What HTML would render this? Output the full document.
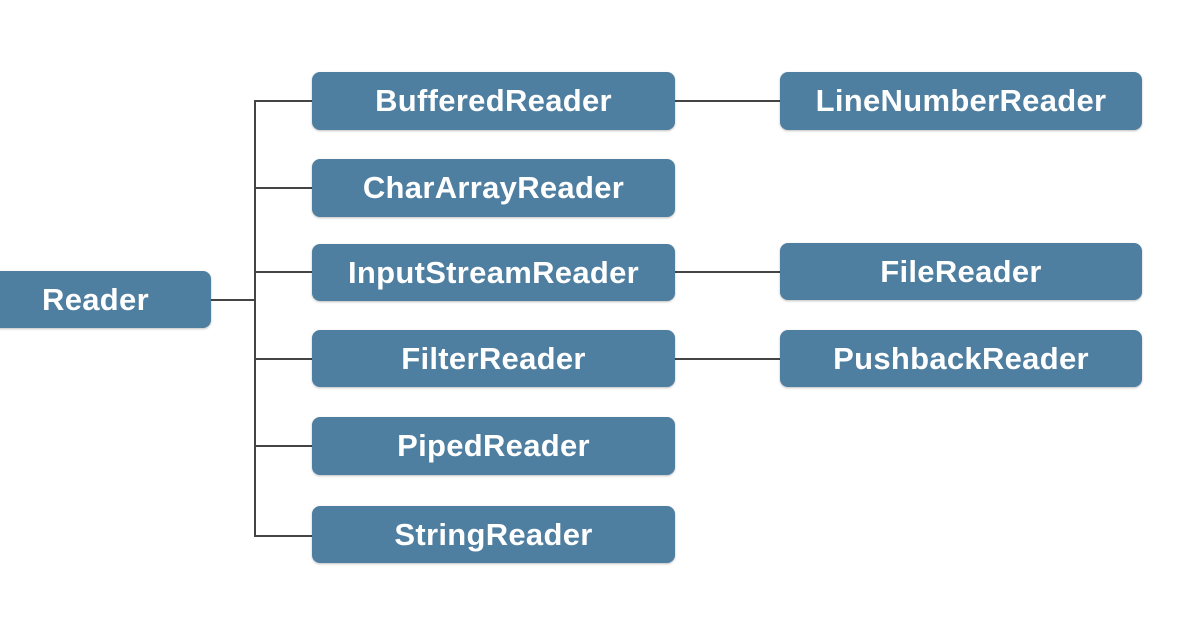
<html><head><style>
body{margin:0;width:1196px;height:628px;background:#fff;position:relative;overflow:hidden;font-family:"Liberation Sans",sans-serif}
.b{position:absolute;background:#4e7ea0;border-radius:8px;color:#fff;font-weight:bold;font-size:31px;letter-spacing:0.3px;display:flex;align-items:center;justify-content:center;box-shadow:0 1px 2px rgba(0,0,0,.25)}
.l{position:absolute;background:#444}
</style></head><body>
<div class="l" style="left:254px;top:100px;width:2px;height:437px"></div>
<div class="l" style="left:211px;top:299px;width:44px;height:2px"></div>
<div class="l" style="left:255px;top:100px;width:58px;height:2px"></div>
<div class="l" style="left:255px;top:187px;width:58px;height:2px"></div>
<div class="l" style="left:255px;top:271px;width:58px;height:2px"></div>
<div class="l" style="left:255px;top:358px;width:58px;height:2px"></div>
<div class="l" style="left:255px;top:445px;width:58px;height:2px"></div>
<div class="l" style="left:255px;top:535px;width:58px;height:2px"></div>
<div class="l" style="left:675px;top:100px;width:106px;height:2px"></div>
<div class="l" style="left:675px;top:271px;width:106px;height:2px"></div>
<div class="l" style="left:675px;top:358px;width:106px;height:2px"></div>
<div class="b" style="left:-10px;top:271px;width:221px;height:57px"><span style="margin-left:-10px">Reader</span></div>
<div class="b" style="left:312px;top:72px;width:363px;height:58px">BufferedReader</div>
<div class="b" style="left:312px;top:159px;width:363px;height:58px">CharArrayReader</div>
<div class="b" style="left:312px;top:244px;width:363px;height:57px">InputStreamReader</div>
<div class="b" style="left:312px;top:330px;width:363px;height:57px">FilterReader</div>
<div class="b" style="left:312px;top:417px;width:363px;height:58px">PipedReader</div>
<div class="b" style="left:312px;top:506px;width:363px;height:57px">StringReader</div>
<div class="b" style="left:780px;top:72px;width:362px;height:58px">LineNumberReader</div>
<div class="b" style="left:780px;top:243px;width:362px;height:57px">FileReader</div>
<div class="b" style="left:780px;top:330px;width:362px;height:57px">PushbackReader</div>
</body></html>
